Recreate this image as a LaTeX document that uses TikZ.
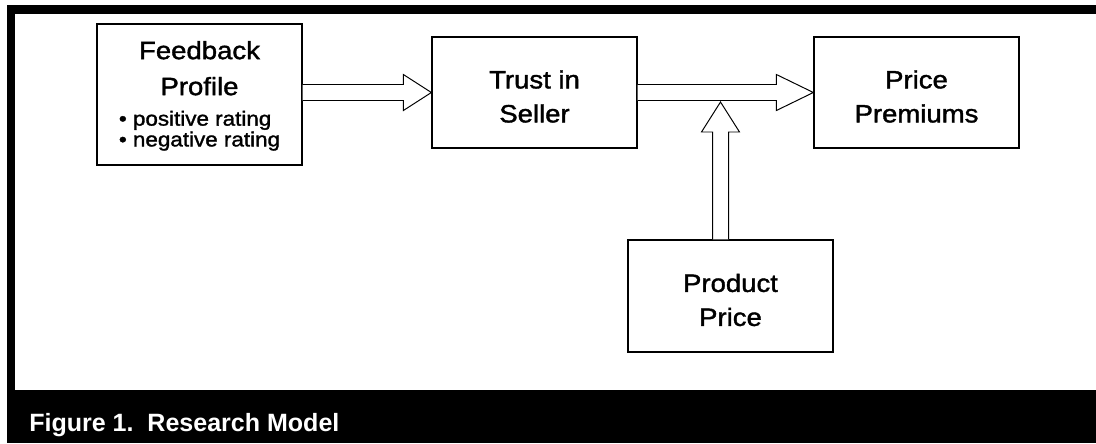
\documentclass[tikz,border=0pt]{standalone}
\usepackage{fontspec}
\setmainfont{Liberation Sans}
\newfontfamily\boxfont[FakeStretch=1.1,FakeBold=1.5]{Liberation Sans}
\usetikzlibrary{calc}
\tikzset{
	block/.style   = {draw, line width=0.9pt, rectangle, minimum width=5.125cm,
		minimum height=2.775cm, align=center, inner sep=0pt,
		font=\boxfont\fontsize{17.8}{24.2}\selectfont},
	hollow/.style  = {draw, line width=0.7pt, fill=white},
	band/.style    = {fill=black},
	caption/.style = {anchor=base west, text=white, inner sep=0pt,
		font=\bfseries\fontsize{17.8}{21}\selectfont}
}
\newcommand{\bulletsize}{\fontsize{14.5}{14.2}\selectfont}
\newcommand{\lift}[1]{\rule{0pt}{#1}}
% hollow block arrows: tail, tip, head length
\newcommand{\arrowright}[3]{\draw[hollow] (#1) ++(0,0.2) -- ($(#2)+(-#3,0.2)$)
	-- ++(0,0.25) -- (#2) -- ++(-#3,-0.45) -- ++(0,0.25) -- ($(#1)+(0,-0.2)$);}
\newcommand{\arrowup}[3]{\draw[hollow] (#1) ++(-0.2,0) -- ($(#2)+(-0.2,-#3)$)
	-- ++(-0.275,0) -- (#2) -- ++(0.475,-#3) -- ++(-0.275,0) -- ($(#1)+(0.2,0)$);}

\begin{document}
\begin{tikzpicture}
\useasboundingbox (0,0) rectangle (27.4,-11.075);
% frame and caption
\fill[band] (0.175,-0.125) rectangle (27.4,-0.35);
\fill[band] (0.175,-0.125) rectangle (0.375,-9.75);
\fill[band] (0.175,-9.75) rectangle (27.4,-11.075);
\node[caption] (cap) at (0.725,-10.775) {Figure 1.\ \ Research Model};

% blocks
\draw
node at (4.9875,-2.3625) [block, minimum height=3.525cm] (fb) {\lift{16pt}Feedback\\[1.4pt]Profile\\[-2.5pt]{\bulletsize\begin{tabular}[t]{@{}l@{}}• positive rating\\• negative rating\end{tabular}}}
node at (13.3625,-2.3125) [block] (trust) {\lift{18.5pt}Trust in\\Seller}
node at (22.9125,-2.3125) [block] (prem) {\lift{18.5pt}Price\\Premiums}
node at (18.2625,-7.4) [block, minimum height=2.8cm] (prod) {\lift{18.5pt}Product\\Price};

% arrows
\coordinate (t1) at (fb.east |- trust.west);
\arrowright{t1}{trust.west}{0.7}
\arrowright{trust.east}{prem.west}{0.925}
\coordinate (join) at (18.0125,-2.55);
\coordinate (t3) at (join |- prod.north);
\arrowup{t3}{join}{0.75}
\end{tikzpicture}
\end{document}
